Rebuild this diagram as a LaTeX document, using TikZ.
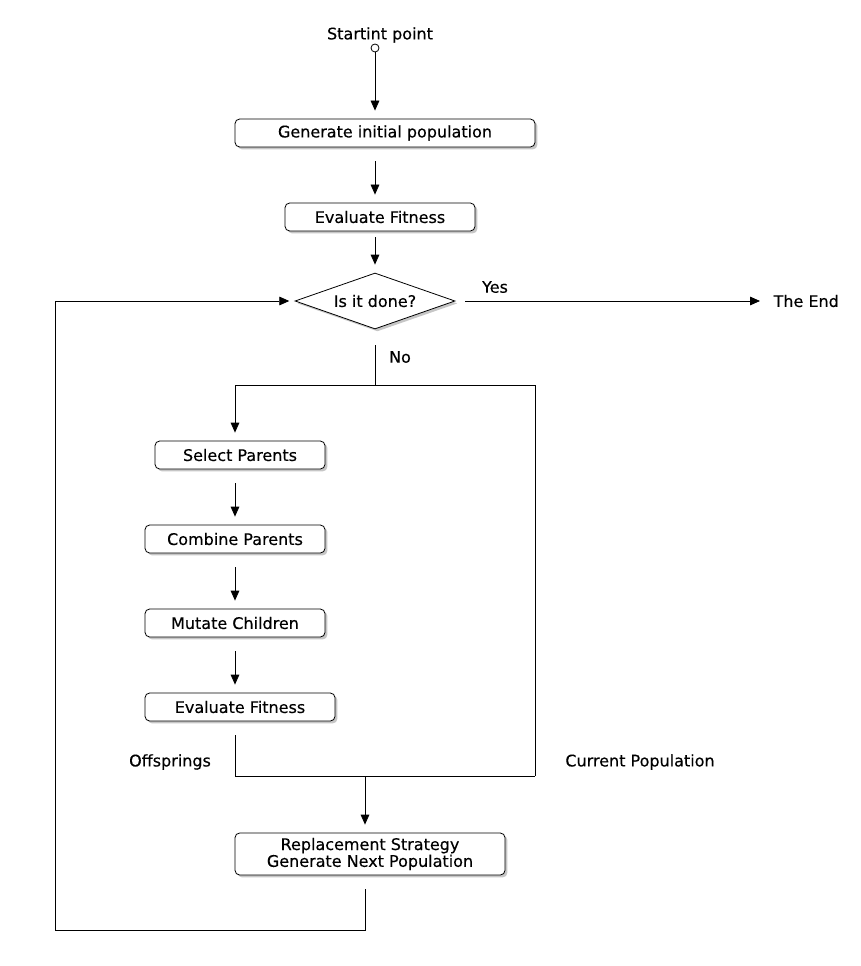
\documentclass[tikz,border=0pt]{standalone}
\usepackage{fontspec}
\setmainfont{DejaVu Sans}[UprightFeatures={FakeBold=0.3}]
\usetikzlibrary{arrows.meta,positioning,shapes.geometric,shadows}
\tikzset{
  >={Triangle[length=7.5pt,width=6.5pt]},
  box/.style={draw,rounded corners=3.5pt,line width=0.6pt,fill=white,minimum height=21pt,inner sep=2pt,align=center,
    drop shadow={shadow xshift=1.8pt,shadow yshift=-1.8pt,opacity=0.45}},
  decision/.style={box,shape=diamond,sharp corners,aspect=2.86,minimum width=120pt,minimum height=42pt,inner sep=0pt},
  startdot/.style={draw,circle,fill=white,inner sep=0pt,minimum size=6pt,line width=0.6pt},
  lab/.style={inner sep=1pt},
  flow/.style={draw,line width=0.6pt},
  arr/.style={flow,->,shorten >=6pt},
}

\begin{document}
\begin{tikzpicture}[x=0.75pt,y=-0.75pt,font=\fontsize{12}{10.5}\selectfont]
\useasboundingbox (0,0) rectangle (860,966);
% columns and junctions
\coordinate (axis) at (375,0);
\coordinate (lane) at (235,0);
\coordinate (fork) at (375,385);
\coordinate (forkR) at (535,385);
\coordinate (merge) at (365,776);
\coordinate (loopB) at (365,930);
\coordinate (loopL) at (55,930);

\node[lab] (startlab) at (380,35) {Startint point};
\node[startdot] (start) at (375,48) {};
\node[box,minimum width=225pt] (init) at (385,133) {Generate initial population};
\node[box,minimum width=142.5pt] (evalA) at (380,217) {Evaluate Fitness};
\node[decision] (done) at (375,301) {Is it done?};
\node[lab,anchor=west] (theend) at (772,301) {The End};
\node[lab] (yes) at (495,287) {Yes};
\node[lab] (no) at (400,357) {No};

\node[box,minimum width=127.5pt] (select) at (240,455) {Select Parents};
\node[box,minimum width=135pt] (combine) at (235,539) {Combine Parents};
\node[box,minimum width=135pt] (mutate) at (235,623) {Mutate Children};
\node[box,minimum width=142.5pt] (evalB) at (240,707) {Evaluate Fitness};
\node[lab] (offs) at (170,762) {Offsprings};
\node[lab] (curpop) at (640,762) {Current Population};
\node[box,minimum width=202.5pt,minimum height=31.5pt] (replace) at (370,854) {Replacement Strategy\\Generate Next Population};

% main line
\draw[arr] (start) -- (init.north -| start);
\draw[arr,shorten <=10.5pt] (init.south -| axis) -- (evalA.north -| axis);
\draw[arr,shorten <=4.5pt] (evalA.south -| axis) -- (done.north);
\draw[arr,shorten <=7.5pt,shorten >=9pt] (done.east) -- (theend.west);
\draw[flow,shorten <=12pt] (done.south) -- (fork);

% inner loop
\draw[arr] (merge -| forkR) -- (forkR) -- (fork -| lane) -- (select.north -| lane);
\draw[arr,shorten <=10.5pt] (select.south -| lane) -- (combine.north -| lane);
\draw[arr,shorten <=10.5pt] (combine.south -| lane) -- (mutate.north -| lane);
\draw[arr,shorten <=10.5pt] (mutate.south -| lane) -- (evalB.north -| lane);
\draw[flow,shorten <=10.5pt] (evalB.south -| lane) -- (merge -| lane) -- (merge -| forkR);
\draw[arr] (merge) -- (replace.north -| merge);

% back to the test
\draw[arr,shorten <=10.5pt,shorten >=4pt] (replace.south -| merge) -- (loopB) -- (loopL) -- (loopL |- done) -- (done.west);
\end{tikzpicture}
\end{document}
